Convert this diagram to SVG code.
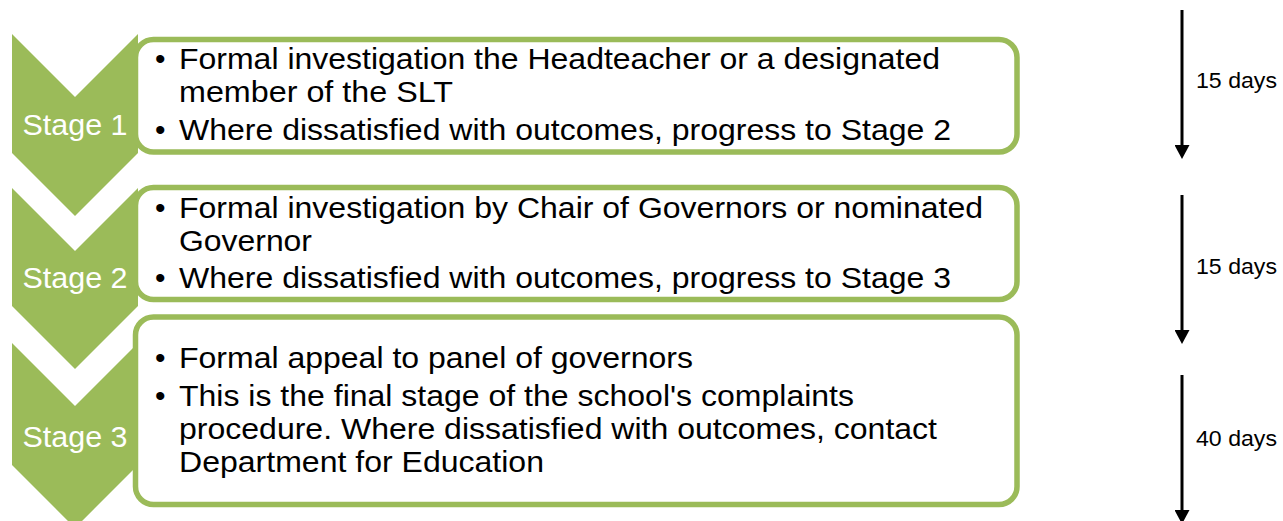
<svg xmlns="http://www.w3.org/2000/svg" width="1283" height="521" viewBox="0 0 1283 521">
  <style>
    .chev { fill: #9BBB59; }
    .box { fill: #FFFFFF; stroke: #9BBB59; stroke-width: 5.5; }
    .stage { font-family: "Liberation Sans", Arial, sans-serif; font-size: 29px; fill: #FFFFFF; text-anchor: middle; }
    .txt { font-family: "Liberation Sans", Arial, sans-serif; font-size: 30px; fill: #000000; }
    .days { font-family: "Liberation Sans", Arial, sans-serif; font-size: 22px; fill: #000000; }
    .arrow { stroke: #000000; stroke-width: 3; fill: none; }
  </style>
  <defs>
    <marker id="head" markerUnits="userSpaceOnUse" markerWidth="15" markerHeight="15" refX="0" refY="7.5" orient="auto">
      <path d="M0,0 L14,7.5 L0,15 z" fill="#000000"/>
    </marker>
  </defs>
  <rect width="1283" height="521" fill="#FFFFFF"/>

  <g id="stage1">
    <polygon class="chev" points="12,34 75,97 138,34 138,153 75,216 12,153"/>
    <text class="stage" x="75" y="135" textLength="105" lengthAdjust="spacingAndGlyphs">Stage 1</text>
  </g>
  <g id="stage2">
    <polygon class="chev" points="12,188 75,251 138,188 138,306 75,369 12,306"/>
    <text class="stage" x="75" y="288" textLength="105" lengthAdjust="spacingAndGlyphs">Stage 2</text>
  </g>
  <g id="stage3">
    <polygon class="chev" points="12,343 75,406 138,343 138,465 75,528 12,465"/>
    <text class="stage" x="75" y="447" textLength="105" lengthAdjust="spacingAndGlyphs">Stage 3</text>
  </g>

  <g id="box1">
    <rect class="box" x="135.5" y="39.5" width="881.5" height="112.5" rx="18" ry="18"/>
    <text class="txt" x="155" y="69">•</text>
    <text class="txt" x="179" y="69" textLength="761" lengthAdjust="spacingAndGlyphs">Formal investigation the Headteacher or a designated</text>
    <text class="txt" x="179" y="102" textLength="274" lengthAdjust="spacingAndGlyphs">member of the SLT</text>
    <text class="txt" x="155" y="140">•</text>
    <text class="txt" x="179" y="140" textLength="772" lengthAdjust="spacingAndGlyphs">Where dissatisfied with outcomes, progress to Stage 2</text>
  </g>
  <g id="box2">
    <rect class="box" x="135.5" y="187.5" width="881.5" height="112" rx="18" ry="18"/>
    <text class="txt" x="155" y="218">•</text>
    <text class="txt" x="179" y="218" textLength="804" lengthAdjust="spacingAndGlyphs">Formal investigation by Chair of Governors or nominated</text>
    <text class="txt" x="179" y="251" textLength="133" lengthAdjust="spacingAndGlyphs">Governor</text>
    <text class="txt" x="155" y="288">•</text>
    <text class="txt" x="179" y="288" textLength="772" lengthAdjust="spacingAndGlyphs">Where dissatisfied with outcomes, progress to Stage 3</text>
  </g>
  <g id="box3">
    <rect class="box" x="135.5" y="317" width="881.5" height="187.5" rx="18" ry="18"/>
    <text class="txt" x="155" y="368">•</text>
    <text class="txt" x="179" y="368" textLength="514" lengthAdjust="spacingAndGlyphs">Formal appeal to panel of governors</text>
    <text class="txt" x="155" y="406">•</text>
    <text class="txt" x="179" y="406" textLength="675" lengthAdjust="spacingAndGlyphs">This is the final stage of the school's complaints</text>
    <text class="txt" x="179" y="439" textLength="758" lengthAdjust="spacingAndGlyphs">procedure. Where dissatisfied with outcomes, contact</text>
    <text class="txt" x="179" y="472" textLength="365" lengthAdjust="spacingAndGlyphs">Department for Education</text>
  </g>

  <g id="connectors">
    <line class="arrow" x1="1182" y1="10" x2="1182" y2="145" marker-end="url(#head)"/>
    <line class="arrow" x1="1182" y1="195" x2="1182" y2="330" marker-end="url(#head)"/>
    <line class="arrow" x1="1182" y1="375" x2="1182" y2="510" marker-end="url(#head)"/>
    <text class="days" x="1196" y="88" textLength="81" lengthAdjust="spacingAndGlyphs">15 days</text>
    <text class="days" x="1196" y="274" textLength="81" lengthAdjust="spacingAndGlyphs">15 days</text>
    <text class="days" x="1196" y="446" textLength="81" lengthAdjust="spacingAndGlyphs">40 days</text>
  </g>
</svg>
